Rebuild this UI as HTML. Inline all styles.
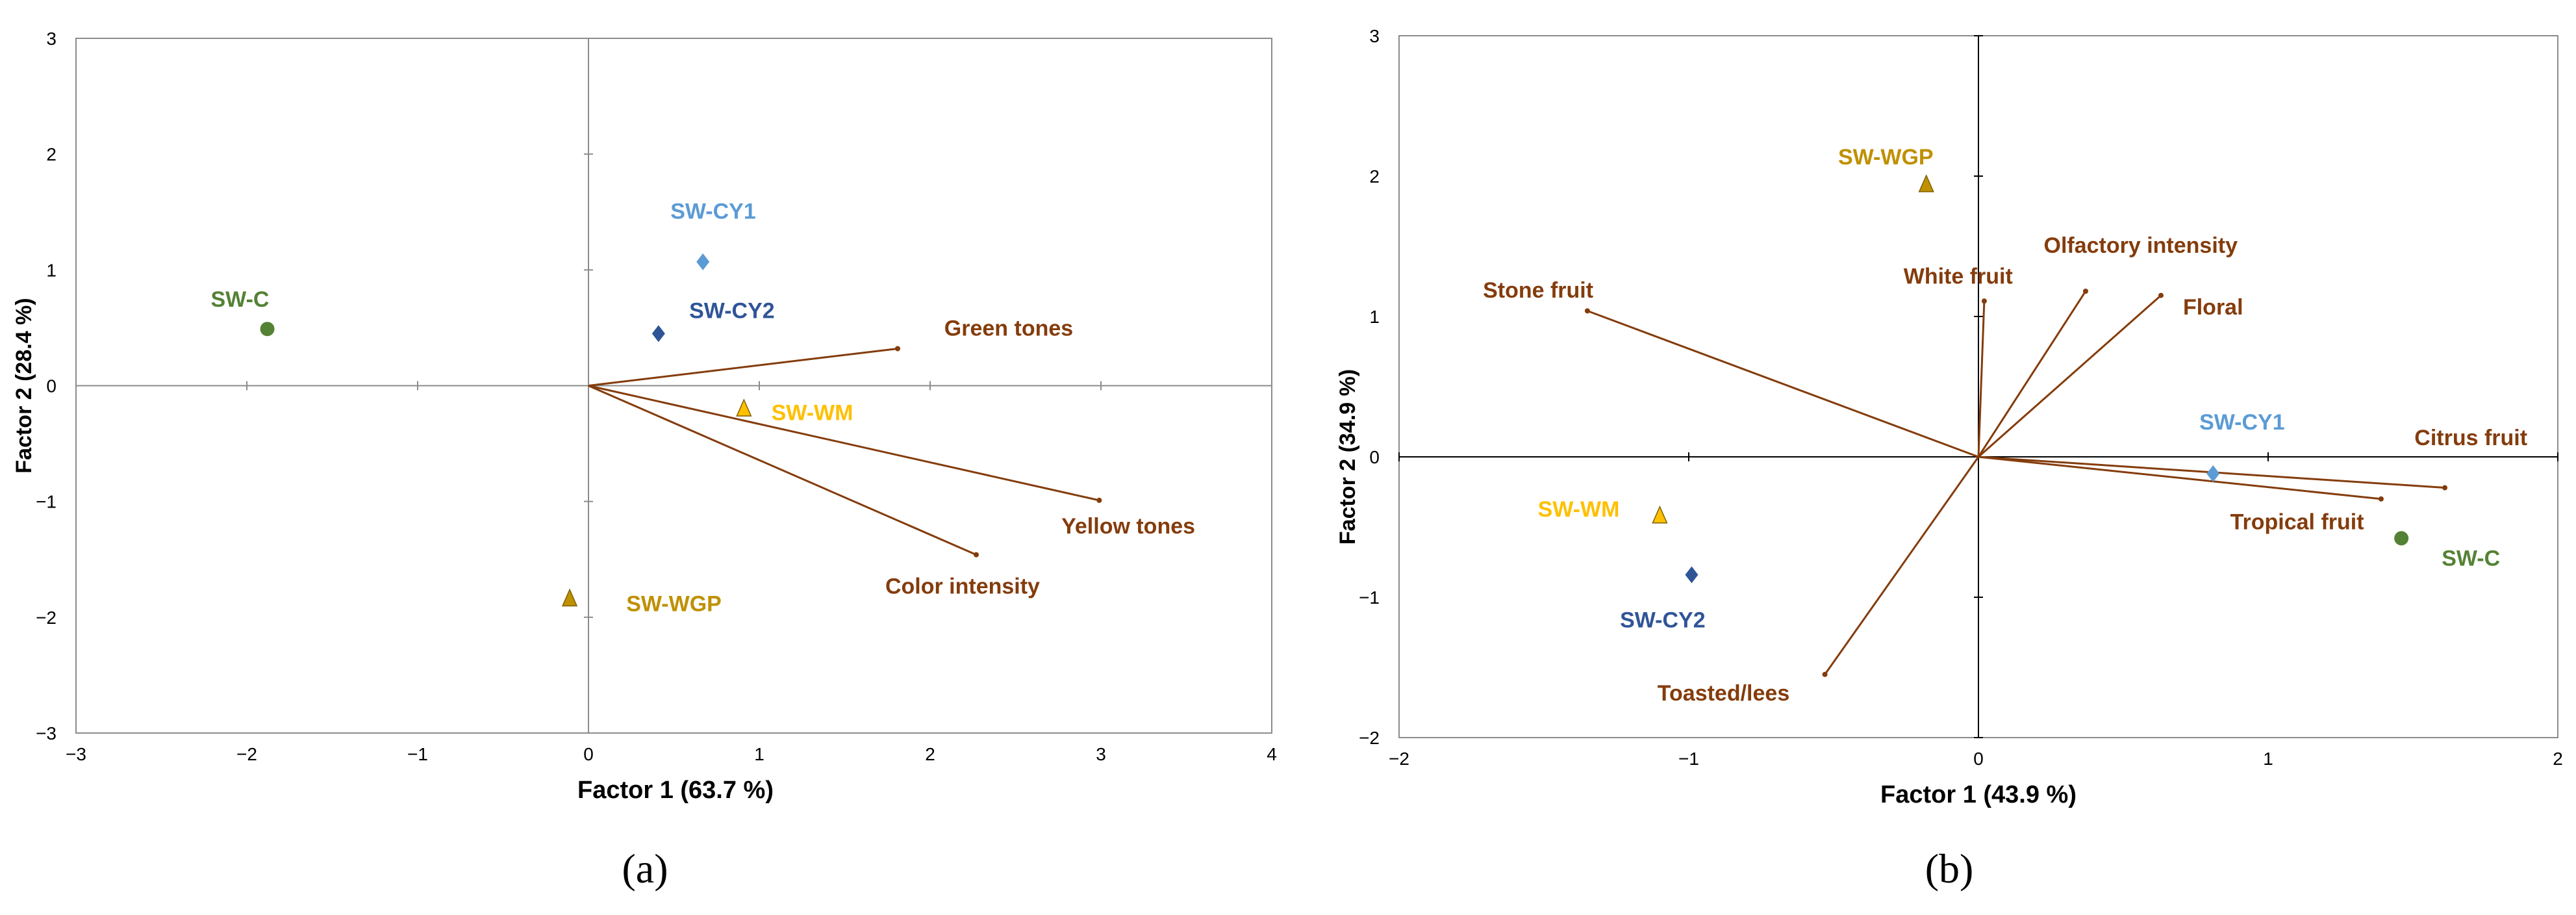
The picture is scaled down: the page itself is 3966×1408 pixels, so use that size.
<!DOCTYPE html>
<html><head><meta charset="utf-8"><style>
html,body{margin:0;padding:0;background:#fff;}
svg{display:block;}
.tick{font-family:"Liberation Sans Narrow","Liberation Sans",sans-serif;font-size:28px;fill:#000;}
.lab{font-family:"Liberation Sans Narrow","Liberation Sans",sans-serif;font-size:34px;font-weight:bold;}
.axt{font-family:"Liberation Sans Narrow","Liberation Sans",sans-serif;font-size:38px;font-weight:bold;fill:#000;}
.yt{font-family:"Liberation Sans",sans-serif;font-size:34px;font-weight:bold;fill:#000;}
.cap{font-family:"Liberation Serif",serif;font-size:64px;fill:#000;}
</style></head><body>
<svg id="fig" width="3966" height="1408" xmlns="http://www.w3.org/2000/svg"></svg>
<script>
// Panel (a) data
const aSampleNames = ["SW-C","SW-CY1","SW-CY2","SW-WM","SW-WGP"];
const aSampleX = [-1.88,0.67,0.41,0.91,-0.11];
const aSampleY = [0.49,1.07,0.45,-0.20,-1.84];
const aSampleLabelX = [-2.04,0.73,0.84,1.31,0.50];
const aSampleLabelY = [0.75,1.51,0.65,-0.23,-1.88];
const aVecNames = ["Green tones","Yellow tones","Color intensity"];
const aVecX = [1.81,2.99,2.27];
const aVecY = [0.32,-0.99,-1.46];
const aVecLabelX = [2.46,3.16,2.19];
const aVecLabelY = [0.50,-1.21,-1.73];
const aXTicks = [-3,-2,-1,0,1,2,3,4];
const aYTicks = [-3,-2,-1,0,1,2,3];
// Panel (b) data
const bSampleNames = ["SW-C","SW-CY1","SW-CY2","SW-WM","SW-WGP"];
const bSampleX = [1.46,0.81,-0.99,-1.10,-0.18];
const bSampleY = [-0.58,-0.12,-0.84,-0.42,1.94];
const bSampleLabelX = [1.70,0.91,-1.09,-1.38,-0.32];
const bSampleLabelY = [-0.72,0.25,-1.16,-0.37,2.14];
const bVecNames = ["Stone fruit","White fruit","Olfactory intensity","Floral","Citrus fruit","Tropical fruit","Toasted/lees"];
const bVecX = [-1.35,0.02,0.37,0.63,1.61,1.39,-0.53];
const bVecY = [1.04,1.11,1.18,1.15,-0.22,-0.30,-1.55];
const bVecLabelX = [-1.52,-0.07,0.56,0.81,1.70,1.10,-0.88];
const bVecLabelY = [1.19,1.29,1.51,1.07,0.14,-0.46,-1.68];
const bXTicks = [-2,-1,0,1,2];
const bYTicks = [-2,-1,0,1,2,3];

const sampleColor = {"SW-C":"#548235","SW-CY1":"#5b9bd5","SW-CY2":"#2f5597","SW-WM":"#ffc000","SW-WGP":"#bf9000"};
const sampleShape = {"SW-C":"circle","SW-CY1":"diamond","SW-CY2":"diamond","SW-WM":"triangle","SW-WGP":"triangle"};
const VEC = "#843c0c";
const NS = "http://www.w3.org/2000/svg";
const svg = document.getElementById("fig");
function mk(tag, attrs, parent, text){
  const e = document.createElementNS(NS, tag);
  for (const k in attrs) e.setAttribute(k, attrs[k]);
  if (text !== undefined) e.textContent = text;
  (parent||svg).appendChild(e);
  return e;
}
function panel(cfg){
  const g = mk("g", {});
  
  
  const sx = v => cfg.x0 + (v - cfg.xmin) / (cfg.xmax - cfg.xmin) * (cfg.x1 - cfg.x0);
  const sy = v => cfg.y1 - (v - cfg.ymin) / (cfg.ymax - cfg.ymin) * (cfg.y1 - cfg.y0);
  const frame = mk("rect", {x:cfg.x0, y:cfg.y0, width:cfg.x1-cfg.x0, height:cfg.y1-cfg.y0, fill:"none", stroke:"#8c8c8c", "stroke-width":2}, g);
  
  
  const xa = mk("line", {x1:cfg.x0, x2:cfg.x1, y1:sy(0), y2:sy(0), stroke:cfg.axisColor, "stroke-width":2}, g);
  
  
  const ya = mk("line", {x1:sx(0), x2:sx(0), y1:cfg.y0, y2:cfg.y1, stroke:cfg.axisColor, "stroke-width":2}, g);
  
  
  cfg.xt.forEach(v => {
    mk("line", {x1:sx(v), x2:sx(v), y1:sy(0)-7, y2:sy(0)+7, stroke:cfg.axisColor, "stroke-width":2}, g);
    const t = mk("text", {x:sx(v), y:cfg.y1+42, "text-anchor":"middle", class:"tick"}, g, v < 0 ? "\u2212" + Math.abs(v) : String(v));
    
    
  });
  cfg.yt.forEach(v => {
    mk("line", {x1:sx(0)-7, x2:sx(0)+7, y1:sy(v), y2:sy(v), stroke:cfg.axisColor, "stroke-width":2}, g);
    const t = mk("text", {x:cfg.x0-30, y:sy(v)+10, "text-anchor":"end", class:"tick"}, g, v < 0 ? "\u2212" + Math.abs(v) : String(v));
    
    
  });
  cfg.vn.forEach((n,i) => {
    const l = mk("line", {x1:sx(0), y1:sy(0), x2:sx(cfg.vx[i]), y2:sy(cfg.vy[i]), stroke:VEC, "stroke-width":3}, g);
    
    
    mk("circle", {cx:sx(cfg.vx[i]), cy:sy(cfg.vy[i]), r:4, fill:VEC}, g);
    const t = mk("text", {x:sx(cfg.vlx[i]), y:sy(cfg.vly[i])+12, "text-anchor":"middle", class:"lab", fill:VEC}, g, n);
    
    
  });
  cfg.sn.forEach((n,i) => {
    const cx = sx(cfg.px[i]), cy = sy(cfg.py[i]), c = sampleColor[n], sh = sampleShape[n];
    let m;
    if (sh === "circle") m = mk("circle", {cx:cx, cy:cy, r:11, fill:c}, g);
    else if (sh === "diamond") m = mk("polygon", {points:`${cx},${cy-13} ${cx+10},${cy} ${cx},${cy+13} ${cx-10},${cy}`, fill:c}, g);
    else m = mk("polygon", {points:`${cx},${cy-14} ${cx+11},${cy+11} ${cx-11},${cy+11}`, fill:c, stroke:"#7f6000", "stroke-width":1.5}, g);
    
    
    const t = mk("text", {x:sx(cfg.plx[i]), y:sy(cfg.ply[i])+12, "text-anchor":"middle", class:"lab", fill:c}, g, n);
    
    
  });
  const xt = mk("text", {x:sx(0)+cfg.xtOff, y:cfg.y1+100, "text-anchor":"middle", class:"axt"}, g, cfg.xTitle);
  
  
  const yt = mk("text", {x:0, y:0, "text-anchor":"middle", class:"yt", transform:`translate(${cfg.ytX},${sy(0)}) rotate(-90)`}, g, cfg.yTitle);
  
  
  const cp = mk("text", {x:cfg.capX, y:1358, "text-anchor":"middle", class:"cap"}, g, cfg.cap);
  
  
}
panel({id:"a", x0:117, x1:1958, y0:59, y1:1128, xmin:-3, xmax:4, ymin:-3, ymax:3, axisColor:"#8c8c8c",
  xt:aXTicks, yt:aYTicks, sn:aSampleNames, px:aSampleX, py:aSampleY, plx:aSampleLabelX, ply:aSampleLabelY,
  vn:aVecNames, vx:aVecX, vy:aVecY, vlx:aVecLabelX, vly:aVecLabelY,
  xTitle:"Factor 1 (63.7 %)", yTitle:"Factor 2 (28.4 %)", xtOff:134, ytX:48, capX:993, cap:"(a)"});
panel({id:"b", x0:2154, x1:3938, y0:55, y1:1135, xmin:-2, xmax:2, ymin:-2, ymax:3, axisColor:"#000",
  xt:bXTicks, yt:bYTicks, sn:bSampleNames, px:bSampleX, py:bSampleY, plx:bSampleLabelX, ply:bSampleLabelY,
  vn:bVecNames, vx:bVecX, vy:bVecY, vlx:bVecLabelX, vly:bVecLabelY,
  xTitle:"Factor 1 (43.9 %)", yTitle:"Factor 2 (34.9 %)", xtOff:0, ytX:2086, capX:3001, cap:"(b)"});
</script>
</body></html>
